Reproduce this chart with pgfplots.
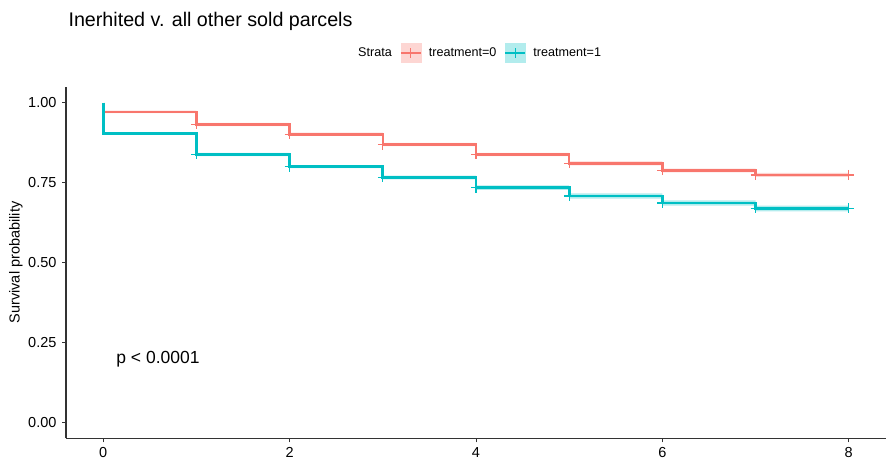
\documentclass[border=0pt]{standalone}
\usepackage{fontspec}
\setmainfont{Liberation Sans}
\usepackage{pgfplots}
\pgfplotsset{compat=1.18}
\usepgfplotslibrary{fillbetween}
\usepackage{pgfplotstable}

\definecolor{strataA}{HTML}{F8766D}
\definecolor{strataB}{HTML}{00BFC4}
\definecolor{axisgray}{HTML}{333333}

% Kaplan-Meier estimates: time, survival, lower and upper confidence limit
\pgfplotstableread{
t s lo hi
0 1.000 1.000 1.000
0 0.971 0.967 0.975
1 0.932 0.927 0.937
2 0.901 0.896 0.906
3 0.869 0.864 0.874
4 0.838 0.833 0.843
5 0.810 0.804 0.816
6 0.788 0.782 0.794
7 0.774 0.768 0.780
8 0.774 0.768 0.780
}\tabA

\pgfplotstableread{
t s lo hi
0 1.000 1.000 1.000
0 0.903 0.899 0.907
1 0.838 0.833 0.843
2 0.800 0.795 0.805
3 0.766 0.760 0.772
4 0.734 0.727 0.741
5 0.708 0.700 0.716
6 0.686 0.678 0.694
7 0.669 0.660 0.678
8 0.669 0.660 0.678
}\tabB

\begin{document}
\begin{tikzpicture}
\begin{axis}[
  at={(66pt,23.7pt)}, anchor=south west,
  scale only axis, width=820pt, height=351.6pt,
  xmin=-0.4, xmax=8.4, ymin=-0.05, ymax=1.05,
  axis lines*=left,
  axis line style={axisgray, line width=1.3pt},
  xtick={0,2,4,6,8},
  ytick={0,0.25,0.5,0.75,1},
  tick align=outside,
  major tick length=4pt,
  tick style={axisgray, line width=1pt},
  /pgf/number format/assume math mode=true,
  ticklabel style={font=\fontsize{14.5}{14.5}\selectfont, text=black},
  xticklabel style={yshift=-1.5pt},
  yticklabel style={/pgf/number format/fixed, /pgf/number format/fixed zerofill,
    /pgf/number format/precision=2, xshift=-2pt},
  ylabel={Survival probability},
  ylabel style={font=\fontsize{14.5}{14.5}\selectfont, at={(axis description cs:-0.061,0.5)}, anchor=center},
  legend columns=-1,
  legend style={draw=none, fill=none, inner sep=0pt,
    at={(axis description cs:0.3476,1.097)}, anchor=west,
    font=\fontsize{12.6}{12.6}\selectfont,
    /tikz/every odd column/.append style={column sep=7pt},
    /tikz/every even column/.append style={column sep=8pt},
    nodes={inner sep=0pt}},
  legend cell align=left,
]
% confidence bands
\addplot[name path=Aup, draw=none, const plot, forget plot] table[x=t,y=hi]{\tabA};
\addplot[name path=Alo, draw=none, const plot, forget plot] table[x=t,y=lo]{\tabA};
\addplot[strataA, fill opacity=0.3, draw=none, forget plot] fill between[of=Aup and Alo];
\addplot[name path=Bup, draw=none, const plot, forget plot] table[x=t,y=hi]{\tabB};
\addplot[name path=Blo, draw=none, const plot, forget plot] table[x=t,y=lo]{\tabB};
\addplot[strataB, fill opacity=0.3, draw=none, forget plot] fill between[of=Bup and Blo];
% survival curves
\addplot[strataA, line width=2.5pt, const plot, forget plot] table[x=t,y=s]{\tabA};
\addplot[strataB, line width=2.7pt, const plot, forget plot] table[x=t,y=s]{\tabB};
% censoring marks
\addplot[strataA, only marks, mark=+, mark size=5pt, line width=1.2pt, restrict x to domain=0.5:9, forget plot] table[x=t,y=s]{\tabA};
\addplot[strataB, only marks, mark=+, mark size=5pt, line width=1.2pt, restrict x to domain=0.5:9, forget plot] table[x=t,y=s]{\tabB};
% legend
\addlegendimage{empty legend}
\addlegendentry{Strata}
\addlegendimage{legend image code/.code={
  \fill[strataA!30] (0pt,-9.5pt) rectangle (20pt,9.5pt);
  \draw[strataA, line width=2pt] (0pt,0pt) -- (20pt,0pt);
  \draw[strataA, line width=1.2pt] (10pt,-5pt) -- (10pt,5pt);}}
\addlegendentry{treatment=0}
\addlegendimage{legend image code/.code={
  \fill[strataB!30] (0pt,-9.5pt) rectangle (20pt,9.5pt);
  \draw[strataB, line width=2pt] (0pt,0pt) -- (20pt,0pt);
  \draw[strataB, line width=1.2pt] (10pt,-5pt) -- (10pt,5pt);}}
\addlegendentry{treatment=1}
\node[font=\fontsize{17.5}{17.5}\selectfont, text=black] at (axis cs:0.587,0.198) {p < 0.0001};
\end{axis}
\node[anchor=base west, font=\fontsize{19.7}{20}\selectfont, text=black] at (65pt,435pt) {Inerhited v. all other sold parcels};
\pgfresetboundingbox
\path[use as bounding box] (0pt,0pt) rectangle (888pt,462pt);
\end{tikzpicture}
\end{document}
